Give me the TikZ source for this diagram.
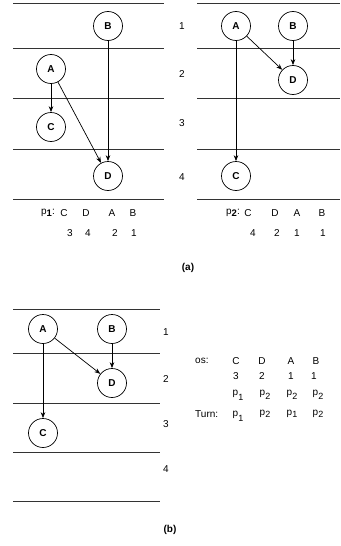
\documentclass[tikz,border=0pt]{standalone}
\usepackage{fontspec}
\setmainfont{Liberation Sans}
\usetikzlibrary{arrows.meta}
\newcommand{\sub}[2]{#1\raisebox{-#2}{\fontsize{9}{9}\selectfont 1}}
\newcommand{\subb}[2]{#1\raisebox{-#2}{\fontsize{9}{9}\selectfont 2}}
\begin{document}
\begin{tikzpicture}[x=1pt,y=-1pt,
  vtx/.style={circle,draw,line width=0.7pt,minimum size=29pt,inner sep=0pt,font=\fontsize{10}{11}\selectfont\bfseries},
  lane/.style={line width=0.8pt,draw=black!80},
  arr/.style={line width=0.7pt,-{Stealth[length=6pt,width=4.5pt]}},
  txt/.style={font=\fontsize{10}{11}\selectfont,inner sep=0pt}]
\useasboundingbox (0,0) rectangle (340,546);
% ---- panel a left
\foreach \y in {3,48,98,149,199} \draw[lane] (13,\y) -- (164,\y);
\node[vtx] (B1) at (108,26) {B};
\node[vtx] (A1) at (51,69) {A};
\node[vtx] (C1) at (51,127) {C};
\node[vtx] (D1) at (108,176) {D};
\draw[arr] (A1) -- (C1);
\draw[arr] (A1) -- (D1);
\draw[arr] (B1) -- (D1);
% ---- panel a right
\foreach \y in {3,48,98,149,199} \draw[lane] (197,\y) -- (340,\y);
\node[txt] (n1) at (182,26) {1};
\node[txt] (n2) at (182,74) {2};
\node[txt] (n3) at (182,123) {3};
\node[txt] (n4) at (182,177) {4};
\node[vtx] (A2) at (236,26) {A};
\node[vtx] (B2) at (293,26) {B};
\node[vtx] (D2) at (293,80) {D};
\node[vtx] (C2) at (236,176) {C};
\draw[arr] (A2) -- (C2);
\draw[arr] (A2) -- (D2);
\draw[arr] (B2) -- (D2);
% ---- text rows a
\node[txt,anchor=east] (p1) at (55,213) {p\raisebox{-2.5pt}{\fontsize{9.5}{9}\selectfont\bfseries 1}:};
\node[txt] (c1) at (64,213) {C};
\node[txt] (d1) at (86,213) {D};
\node[txt] (a1) at (112,213) {A};
\node[txt] (b1) at (133,213) {B};
\node[txt] (r13) at (70,233) {3};
\node[txt] (r14) at (88,233) {4};
\node[txt] (r12) at (115,233) {2};
\node[txt] (r11) at (134,233) {1};
\node[txt,anchor=east] (p2) at (240,213) {p\raisebox{-2.5pt}{\fontsize{9.5}{9}\selectfont\bfseries 2}:};
\node[txt] (c2) at (248,213) {C};
\node[txt] (d2) at (275,213) {D};
\node[txt] (a2) at (297,213) {A};
\node[txt] (b2) at (322,213) {B};
\node[txt] (r24) at (253,233) {4};
\node[txt] (r22) at (277,233) {2};
\node[txt] (r21) at (297,233) {1};
\node[txt] (r21b) at (323,233) {1};
\node[txt,font=\fontsize{10}{11}\selectfont\bfseries] (capa) at (188,268) {(a)};
% ---- panel b
\foreach \y in {309,353,403,452,501} \draw[lane] (13,\y) -- (160,\y);
\node[vtx] (A3) at (43,329) {A};
\node[vtx] (B3) at (112,329) {B};
\node[vtx] (D3) at (112,383) {D};
\node[vtx] (C3) at (43,433) {C};
\draw[arr] (A3) -- (C3);
\draw[arr] (A3) -- (D3);
\draw[arr] (B3) -- (D3);
\node[txt] (m1) at (166,332) {1};
\node[txt] (m2) at (166,379) {2};
\node[txt] (m3) at (166,424) {3};
\node[txt] (m4) at (166,469) {4};
% ---- right text b
\node[txt,anchor=west] (os) at (195,361) {os:};
\node[txt] (oc) at (236,361) {C};
\node[txt] (od) at (262,361) {D};
\node[txt] (oa) at (291,361) {A};
\node[txt] (ob) at (316,361) {B};
\node[txt] (o3) at (236,376) {3};
\node[txt] (o2) at (262,376) {2};
\node[txt] (o1) at (291,376) {1};
\node[txt] (o1b) at (314,376) {1};
\node[txt] (q1) at (238,395) {\sub{p}{5pt}};
\node[txt] (q2) at (265,395) {\subb{p}{4pt}};
\node[txt] (q3) at (292,395) {\subb{p}{4pt}};
\node[txt] (q4) at (318,395) {\subb{p}{4pt}};
\node[txt,anchor=west] (turn) at (195,414) {Turn:};
\node[txt] (t1) at (238,416) {\sub{p}{5pt}};
\node[txt] (t2) at (265,414) {\subb{p}{2pt}};
\node[txt] (t3) at (292,414) {\sub{p}{2pt}};
\node[txt] (t4) at (318,414) {\subb{p}{2pt}};
\node[txt,font=\fontsize{10}{11}\selectfont\bfseries] (capb) at (170,530) {(b)};
\end{tikzpicture}
\end{document}
